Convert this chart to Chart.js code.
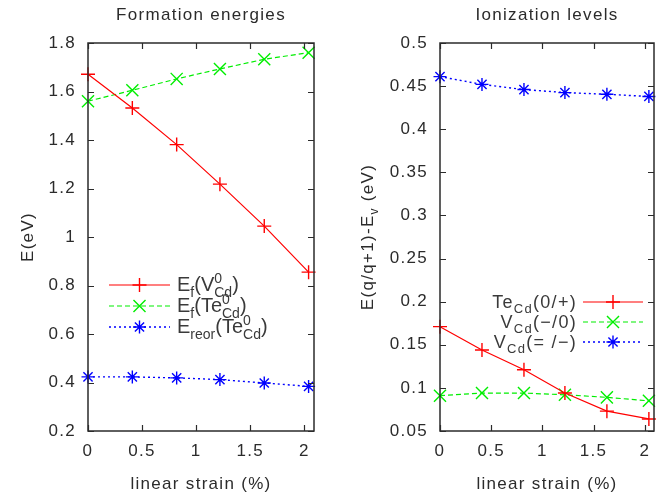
<!DOCTYPE html>
<html><head><meta charset="utf-8">
<script src="https://cdn.jsdelivr.net/npm/chart.js@4.4.1/dist/chart.umd.min.js"></script>
<style>
html,body{margin:0;padding:0;background:#fff;}
body{width:668px;height:496px;overflow:hidden;position:relative;}
.w{position:absolute;top:0;width:334px;height:496px;}
canvas{display:block;}
</style>
</head><body>
<div class="w" style="left:0"><canvas id="c1" width="334" height="496"></canvas></div>
<div class="w" style="left:334px"><canvas id="c2" width="334" height="496"></canvas></div>
<script>
// ---- data ----
const strain = [0, 0.41, 0.82, 1.22, 1.63, 2.04];
const xTickValues = [0, 0.5, 1, 1.5, 2];

// Left panel: Formation energies (eV)
const efVCd    = [1.671, 1.532, 1.381, 1.218, 1.045, 0.855];
const efTeCd   = [1.560, 1.605, 1.652, 1.693, 1.733, 1.760];
const ereorTeCd= [0.423, 0.423, 0.419, 0.412, 0.398, 0.384];
const yTicksLeft = [0.2, 0.4, 0.6, 0.8, 1, 1.2, 1.4, 1.6, 1.8];

// Right panel: Ionization levels (eV)
const ionTeCd_0p  = [0.171, 0.144, 0.121, 0.094, 0.073, 0.064];
const ionVCd_m0   = [0.091, 0.094, 0.094, 0.092, 0.089, 0.085];
const ionVCd_mm   = [0.461, 0.452, 0.446, 0.4425, 0.4405, 0.438];
const yTicksRight = [0.05, 0.1, 0.15, 0.2, 0.25, 0.3, 0.35, 0.4, 0.45, 0.5];

// ---- styling ----
const FONT = '"Liberation Sans", Arial, Helvetica, sans-serif';
const LS = '1.3px';
const INK = '#2b2b2b';
const RED = '#ff0000', GREEN = '#00ee00', BLUE = '#0000ff';

Chart.defaults.font.family = FONT;
Chart.defaults.font.size = 17;
Chart.defaults.color = INK;

const fmt = v => String(+(+v).toFixed(2));

function setLS(chart){ try { chart.ctx.letterSpacing = LS; } catch(e){} }

function rich(ctx, x, y, tokens, size, align){
  const small = Math.round(size*0.72);
  const parts = []; let w = 0;
  for (const tk of tokens){
    if (tk[0]==='n'){
      ctx.font = size+'px '+FONT; const tw = ctx.measureText(tk[1]).width;
      parts.push({t:tk[1], x:w, dy:0, f:size}); w += tw;
    } else if (tk[0]==='sub'){
      ctx.font = small+'px '+FONT; const tw = ctx.measureText(tk[1]).width;
      parts.push({t:tk[1], x:w, dy:size*0.28, f:small}); w += tw;
    } else if (tk[0]==='ss'){
      ctx.font = small+'px '+FONT;
      const a = ctx.measureText(tk[1]).width, b = ctx.measureText(tk[2]).width;
      parts.push({t:tk[1], x:w, dy:-size*0.42, f:small});
      parts.push({t:tk[2], x:w, dy:size*0.28, f:small});
      w += Math.max(a,b);
    }
  }
  const x0 = align==='right' ? x - w : (align==='center' ? x - w/2 : x);
  for (const p of parts){ ctx.font = p.f+'px '+FONT; ctx.fillText(p.t, x0+p.x, y+p.dy); }
  return w;
}

function marker(ctx, style, x, y, r){
  ctx.beginPath();
  if (style==='cross' || style==='star'){ ctx.moveTo(x-r,y); ctx.lineTo(x+r,y); ctx.moveTo(x,y-r); ctx.lineTo(x,y+r); }
  if (style==='crossRot' || style==='star'){ const d=r*0.7071; ctx.moveTo(x-d,y-d); ctx.lineTo(x+d,y+d); ctx.moveTo(x+d,y-d); ctx.lineTo(x-d,y+d); }
  ctx.stroke();
}

function ds(label, data, color, dash, style, r, bw){
  return {
    label, data: strain.map((x,i)=>({x, y:data[i]})),
    borderColor: color, backgroundColor: color, borderWidth: bw||1.2, borderDash: dash,
    pointStyle: style, pointRadius: r, pointHoverRadius: r, pointBorderWidth: 1.4,
    pointBorderColor: color, tension: 0, fill: false, clip: false
  };
}

function makePlugin(p){
  return {
    id: 'deco',
    beforeUpdate: setLS,
    beforeDraw: setLS,
    afterDatasetsDraw(chart){
      const ctx = chart.ctx, a = chart.chartArea, xs = chart.scales.x, ys = chart.scales.y;
      ctx.save();
      ctx.strokeStyle = INK; ctx.lineWidth = 1.5; ctx.setLineDash([]);
      ctx.strokeRect(a.left, a.top, a.right-a.left, a.bottom-a.top);
      ctx.lineWidth = 1.2; ctx.beginPath();
      const T = 6;
      for (const v of xTickValues){ const px = Math.round(xs.getPixelForValue(v))+0.5;
        ctx.moveTo(px, a.bottom); ctx.lineTo(px, a.bottom-T); ctx.moveTo(px, a.top); ctx.lineTo(px, a.top+T); }
      for (const v of p.yTicks){ const py = Math.round(ys.getPixelForValue(v))+0.5;
        ctx.moveTo(a.left, py); ctx.lineTo(a.left+T, py); ctx.moveTo(a.right, py); ctx.lineTo(a.right-T, py); }
      ctx.stroke();

      // texts
      ctx.fillStyle = INK; ctx.textBaseline = 'alphabetic'; ctx.textAlign = 'left';
      try { ctx.letterSpacing = LS; } catch(e){}
      const cx = (a.left + a.right)/2;
      ctx.font = '17px '+FONT; ctx.textAlign='center';
      ctx.fillText(p.title, cx, 19.5);
      ctx.fillText('linear strain (%)', cx, 489);
      ctx.textAlign = 'left';
      // y title rotated
      ctx.save();
      ctx.translate(p.yTitleX, (a.top+a.bottom)/2);
      ctx.rotate(-Math.PI/2);
      rich(ctx, 0, 6, p.yTitle, 17, 'center');
      ctx.restore();

      // legend
      const L = p.legend;
      try { ctx.letterSpacing = L.ls; } catch(e){}
      ctx.fillStyle = '#3a3a3a';
      L.rows.forEach((row, i) => {
        const y = L.y0 + i*L.dy;
        const d = chart.data.datasets[i];
        ctx.strokeStyle = d.borderColor; ctx.lineWidth = d.borderWidth;
        ctx.setLineDash(d.borderDash || []);
        ctx.beginPath(); ctx.moveTo(L.lx0, y); ctx.lineTo(L.lx1, y); ctx.stroke();
        ctx.setLineDash([]); ctx.lineWidth = 1.4;
        const mx = (L.lx0+L.lx1)/2;
        const st = d.pointStyle, r = d.pointRadius;
        marker(ctx, st, mx, y, r);
        ctx.fillStyle = '#3a3a3a';
        rich(ctx, L.tx, y + L.base, row, L.size, L.align);
      });
      ctx.restore();
    }
  };
}

function makeChart(id, datasets, yMin, yMax, yTicks, yWidth, padRight, plug){
  return new Chart(document.getElementById(id), {
    type: 'line',
    data: { datasets },
    options: {
      responsive: false, animation: false,
      events: [],
      layout: { padding: { top: 43, right: padRight, left: 0, bottom: 0 } },
      plugins: { legend: { display: false }, title: { display: false }, tooltip: { enabled: false } },
      scales: {
        x: {
          type: 'linear', min: 0, max: 2.09,
          afterBuildTicks: s => { s.ticks = xTickValues.map(v => ({ value: v })); },
          afterFit: s => { s.height = 65; },
          ticks: { callback: fmt, padding: 10, maxRotation: 0, autoSkip: false, color: INK, font: { size: 17 } },
          grid: { display: false, drawTicks: false }, border: { display: false }
        },
        y: {
          type: 'linear', min: yMin, max: yMax,
          afterBuildTicks: s => { s.ticks = yTicks.map(v => ({ value: v })); },
          afterFit: s => { s.width = yWidth; },
          ticks: { callback: fmt, padding: 12, autoSkip: false, color: INK, font: { size: 17 } },
          grid: { display: false, drawTicks: false }, border: { display: false }
        }
      }
    },
    plugins: [plug]
  });
}

// Left chart
makeChart('c1', [
  ds('Ef(V0Cd)', efVCd, RED, [], 'cross', 7, 1.2),
  ds('Ef(Te0Cd)', efTeCd, GREEN, [5,3], 'crossRot', 8.5, 1.2),
  ds('Ereor(Te0Cd)', ereorTeCd, BLUE, [2,3], 'star', 6.5, 1.4)
], 0.2, 1.8, yTicksLeft, 88, 20, makePlugin({
  title: 'Formation energies', yTicks: yTicksLeft, yTitleX: 27,
  yTitle: [['n','E(eV)']],
  legend: { y0: 285, dy: 21, lx0: 109, lx1: 170, tx: 177, base: 6, size: 20, align: 'left', ls: '0px',
    rows: [
      [['n','E'],['sub','f'],['n','(V'],['ss','0','Cd'],['n',')']],
      [['n','E'],['sub','f'],['n','(Te'],['ss','0','Cd'],['n',')']],
      [['n','E'],['sub','reor'],['n','(Te'],['ss','0','Cd'],['n',')']]
    ] }
}));

// Right chart
makeChart('c2', [
  ds('TeCd(0/+)', ionTeCd_0p, RED, [], 'cross', 7, 1.2),
  ds('VCd(-/0)', ionVCd_m0, GREEN, [5,3], 'crossRot', 8.5, 1.2),
  ds('VCd(=/-)', ionVCd_mm, BLUE, [2,3], 'star', 6.5, 1.4)
], 0.05, 0.5, yTicksRight, 106, 14, makePlugin({
  title: 'Ionization levels', yTicks: yTicksRight, yTitleX: 33,
  yTitle: [['n','E(q/q+1)-E'],['sub','v'],['n',' (eV)']],
  legend: { y0: 302, dy: 20, lx0: 249, lx1: 309, tx: 243, base: 6, size: 18, align: 'right', ls: '1.3px',
    rows: [
      [['n','Te'],['sub','Cd'],['n','(0/+)']],
      [['n','V'],['sub','Cd'],['n','(\u2212/0)']],
      [['n','V'],['sub','Cd'],['n','(= /\u2212)']]
    ] }
}));
</script>
</body></html>
